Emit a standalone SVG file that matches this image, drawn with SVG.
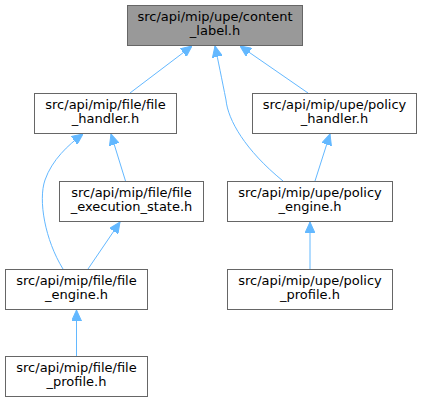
<svg xmlns="http://www.w3.org/2000/svg" width="423" height="403" viewBox="0 0 423 403">
<style>
.n rect{fill:#ffffff;stroke:#666666;stroke-width:1}
.n.root rect{fill:#999999}
.n text{font-family:"DejaVu Sans",sans-serif;font-size:13px;fill:#000000;text-anchor:middle}
.e path{fill:none;stroke:#63b8ff;stroke-width:1;marker-end:url(#ah)}
</style>
<defs>
<marker id="ah" viewBox="0 0 11 10" refX="11" refY="5" markerWidth="11" markerHeight="10" markerUnits="userSpaceOnUse" orient="auto">
<path d="M0,0 L11,5 L0,10 Z" fill="#63b8ff" stroke="#63b8ff" stroke-width="1"/>
</marker>
</defs>
<rect width="423" height="403" fill="#ffffff"/>
<g id="edges" class="e">
<path d="M130,93 L192,46"/>
<path d="M308,93 L240,46"/>
<path d="M283,181 C245,150 228,120 226,100 C222,80 218,60 215,46"/>
<path d="M125.5,181 L111,134"/>
<path d="M63,269 C45,240 38,200 45,180 C52,160 68,145 83,134"/>
<path d="M88,269 L120,222"/>
<path d="M315,181 L330,134"/>
<path d="M310,269 L310,222"/>
<path d="M76.5,356.5 L76.5,310"/>
</g>
<g id="content_label" class="n root">
<rect x="127.5" y="5.5" width="175" height="40"/>
<text x="215" y="21.3">src/api/mip/upe/content</text>
<text x="215" y="35.3">_label.h</text>
</g>
<g id="file_handler" class="n">
<rect x="34.5" y="93.5" width="142" height="40"/>
<text x="105.5" y="109.3">src/api/mip/file/file</text>
<text x="105.5" y="123.3">_handler.h</text>
</g>
<g id="policy_handler" class="n">
<rect x="252.5" y="93.5" width="164" height="40"/>
<text x="334.5" y="109.3">src/api/mip/upe/policy</text>
<text x="334.5" y="123.3">_handler.h</text>
</g>
<g id="file_execution_state" class="n">
<rect x="59.5" y="181.5" width="144" height="40"/>
<text x="131.5" y="197.3">src/api/mip/file/file</text>
<text x="131.5" y="211.3">_execution_state.h</text>
</g>
<g id="policy_engine" class="n">
<rect x="227.5" y="181.5" width="165" height="40"/>
<text x="310" y="197.3">src/api/mip/upe/policy</text>
<text x="310" y="211.3">_engine.h</text>
</g>
<g id="file_engine" class="n">
<rect x="5.5" y="269.5" width="142" height="40"/>
<text x="76.5" y="285.3">src/api/mip/file/file</text>
<text x="76.5" y="299.3">_engine.h</text>
</g>
<g id="policy_profile" class="n">
<rect x="227.5" y="269.5" width="165" height="40"/>
<text x="310" y="285.3">src/api/mip/upe/policy</text>
<text x="310" y="299.3">_profile.h</text>
</g>
<g id="file_profile" class="n">
<rect x="5.5" y="356.5" width="142" height="40"/>
<text x="76.5" y="372.3">src/api/mip/file/file</text>
<text x="76.5" y="386.3">_profile.h</text>
</g>
</svg>
